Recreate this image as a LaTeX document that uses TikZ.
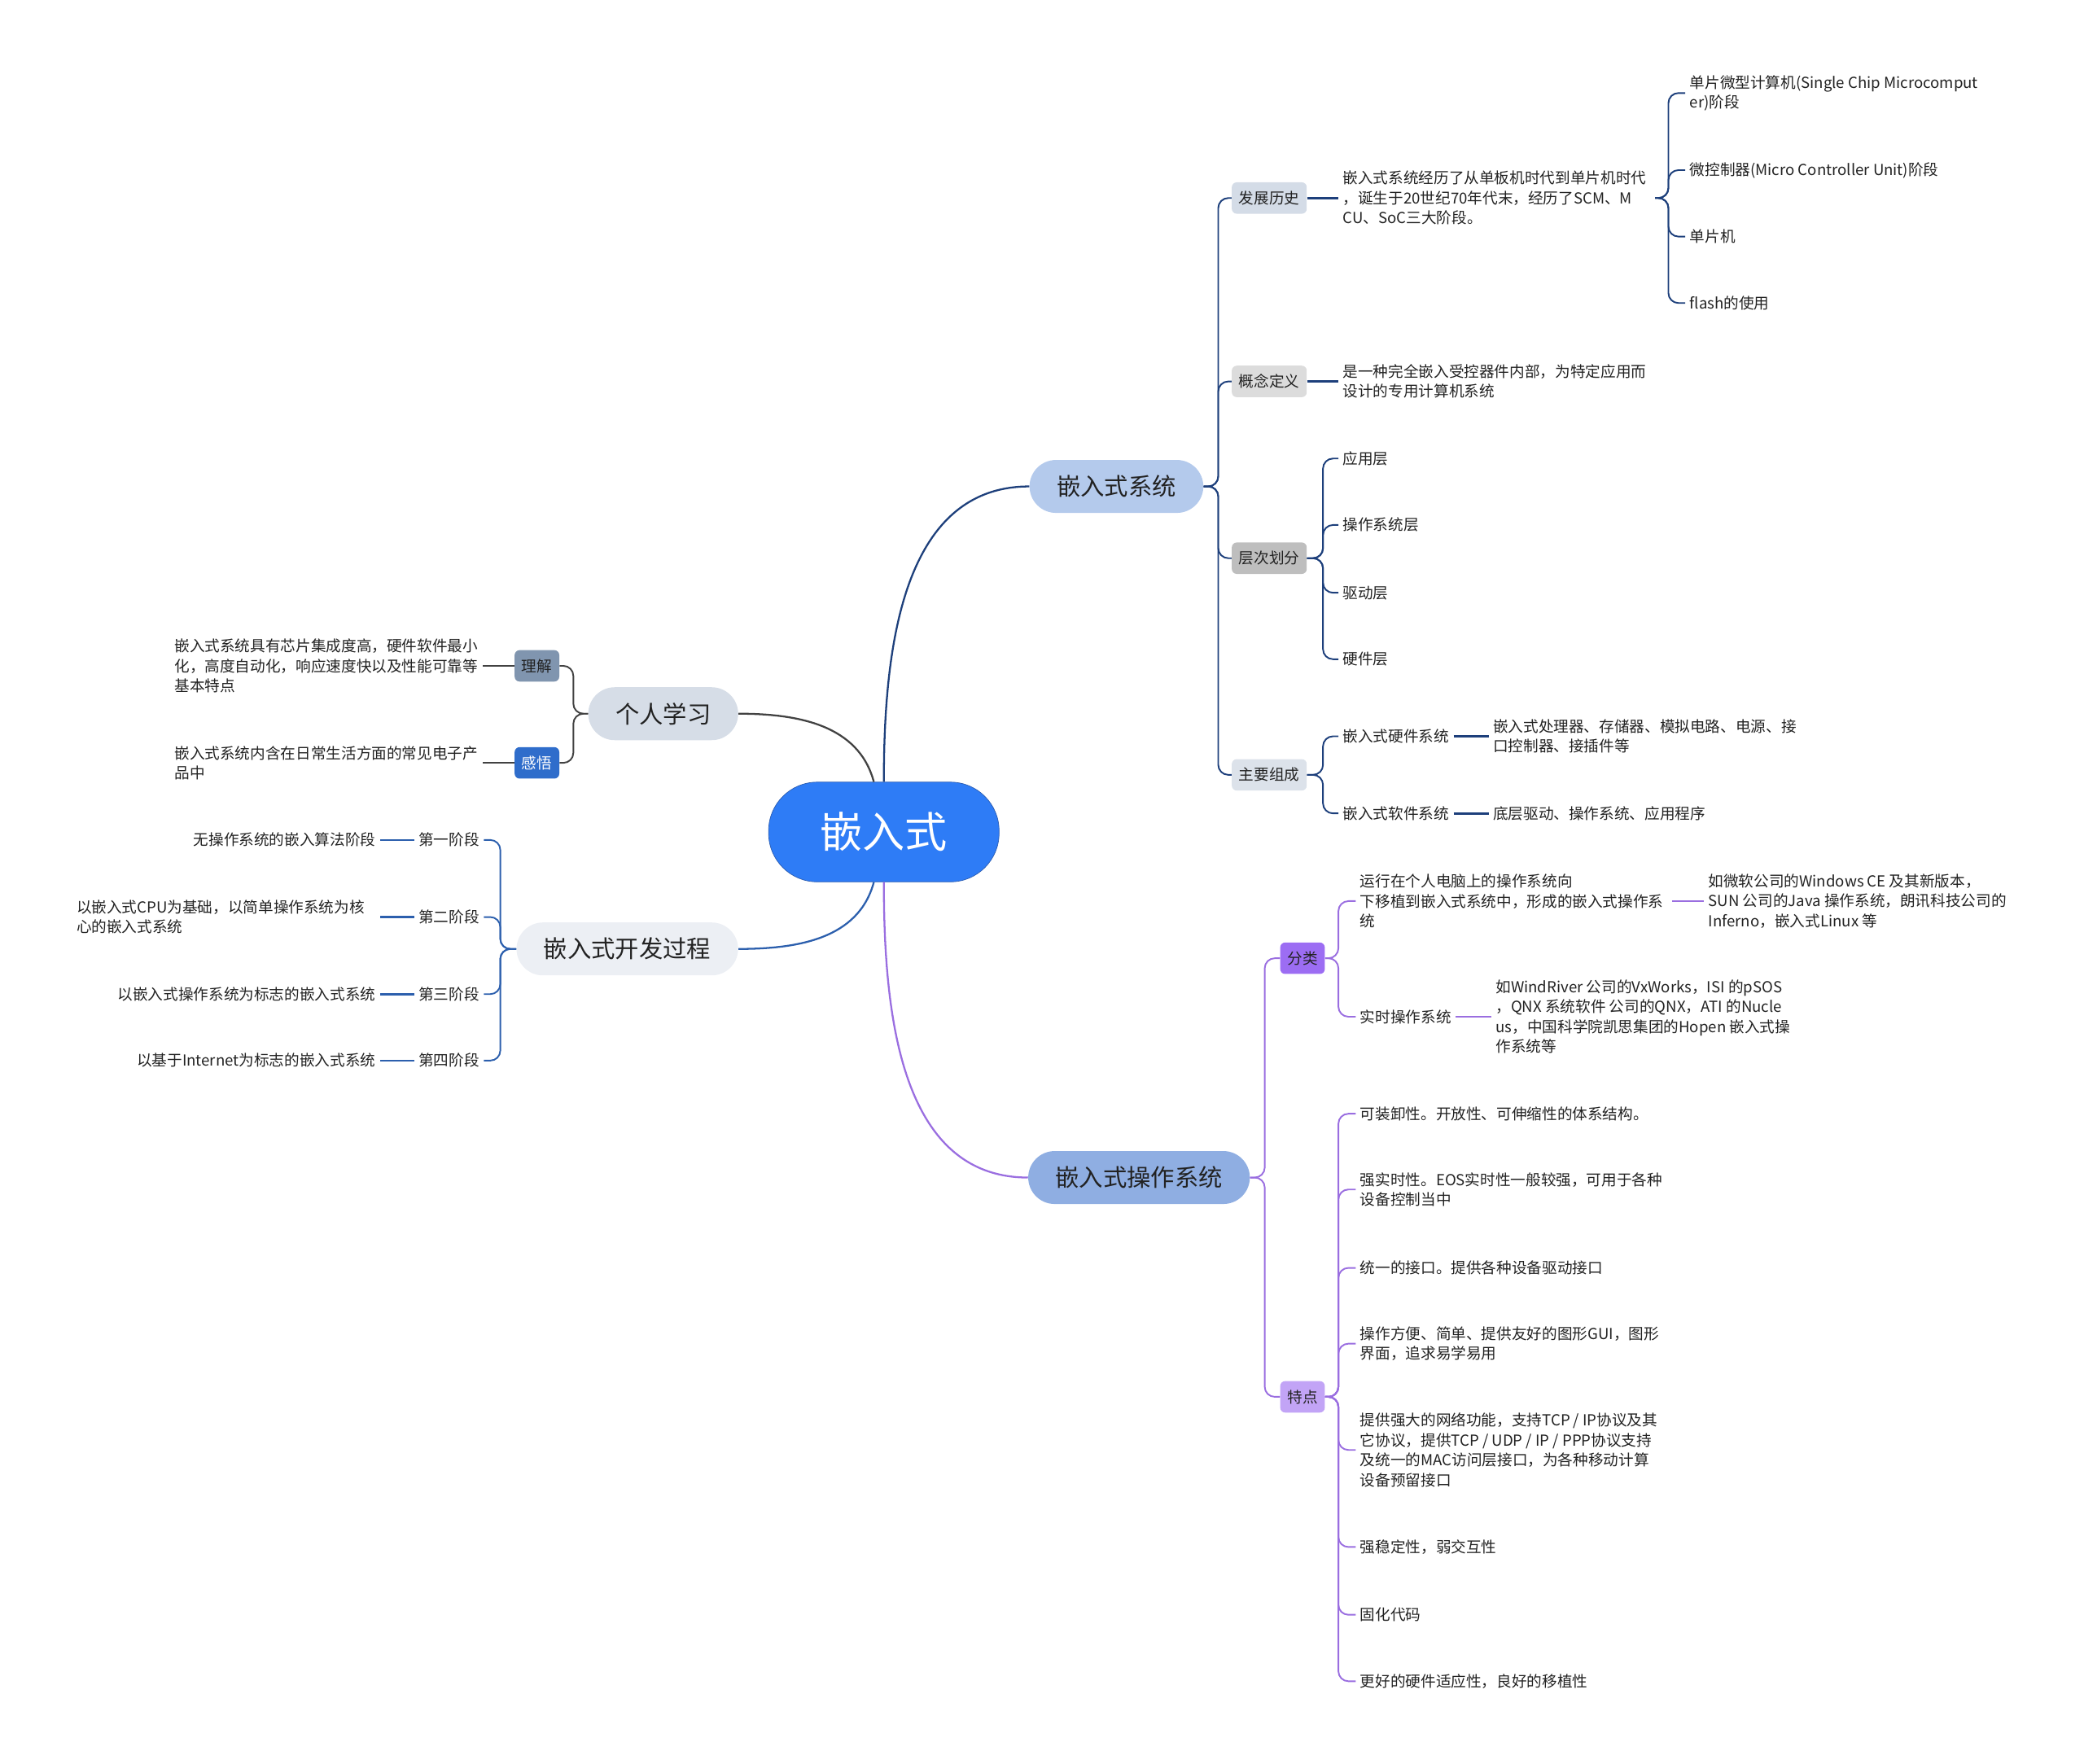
\documentclass[tikz,border=0pt]{standalone}
\usepackage{fontspec}
\setmainfont{Noto Sans CJK SC}
\usepackage{tikz}

\definecolor{rootblue}{HTML}{2E7CF6}
\definecolor{rootedge}{HTML}{2B5CB0}
\definecolor{sysfill}{HTML}{B4CAEC}
\definecolor{osfill}{HTML}{8FAEE2}
\definecolor{learnfill}{HTML}{D6DDE7}
\definecolor{devfill}{HTML}{ECEFF4}
\definecolor{histfill}{HTML}{D4DCE7}
\definecolor{conceptfill}{HTML}{DCDCDC}
\definecolor{layerfill}{HTML}{BEBEBE}
\definecolor{partsfill}{HTML}{DCE2EA}
\definecolor{undfill}{HTML}{8095AF}
\definecolor{feelfill}{HTML}{2F6DCB}
\definecolor{clsfill}{HTML}{9C6DF3}
\definecolor{featfill}{HTML}{C2A4F6}
\definecolor{sysline}{HTML}{1D3F7B}
\definecolor{learnline}{HTML}{424242}
\definecolor{devline}{HTML}{2C5FAD}
\definecolor{osline}{HTML}{9A6EE0}
\definecolor{textdark}{HTML}{222222}

\begin{document}
\begin{tikzpicture}[x=0.03265cm, y=-0.03265cm,
        root/.style={rounded corners=34pt, fill=rootblue, draw=rootedge, thin, text=white, font=\fontsize{29.7}{34}\selectfont, minimum height=69.7pt, inner xsep=36pt},
        topic/.style={rounded corners=18.5pt, minimum height=37pt, inner xsep=19pt, text=textdark, font=\fontsize{16.7}{20}\selectfont},
        tag/.style={rounded corners=3.5pt, minimum height=22pt, inner xsep=5pt, text=textdark, font=\fontsize{10.6}{13.9}\selectfont},
        leaf/.style={anchor=west, align=left, inner xsep=3pt, text=textdark, font=\fontsize{10.6}{13.9}\selectfont},
        leafl/.style={leaf, anchor=east},
        link/.style={line width=1.3pt},
        twig/.style={line width=1.1pt, rounded corners=7pt},
        stub/.style={line width=1.5pt}
    ]
        \useasboundingbox (0,0) rectangle (1568,1327);

        % Root and main topics
        \node[root] (root) at (665,626) {嵌入式};
        \node[topic, fill=sysfill] (sys) at (840,366) {嵌入式系统};
        \node[topic, fill=osfill] (os) at (857,886) {嵌入式操作系统};
        \node[topic, fill=learnfill] (learn) at (499,537) {个人学习};
        \node[topic, fill=devfill] (dev) at (472,714) {嵌入式开发过程};

        % Embedded system branch
        \node[tag, fill=histfill] (hist) at (955,149) {发展历史};
        \node[tag, fill=conceptfill] (concept) at (955,287) {概念定义};
        \node[tag, fill=layerfill] (layer) at (955,420) {层次划分};
        \node[tag, fill=partsfill] (parts) at (955,583) {主要组成};

        \node[leaf, text width=215pt] (histtxt) at (1007,149) {嵌入式系统经历了从单板机时代到单片机时代\\，诞生于20世纪70年代末，经历了SCM、M\\CU、SoC三大阶段。};
        \node[leaf] (scm) at (1268,70) {单片微型计算机(Single Chip Microcomput\\er)阶段};
        \node[leaf] (mcu) at (1268,128) {微控制器(Micro Controller Unit)阶段};
        \node[leaf] (chip) at (1268,178) {单片机};
        \node[leaf] (flash) at (1268,228) {flash的使用};

        \node[leaf] (concepttxt) at (1007,287) {是一种完全嵌入受控器件内部，为特定应用而\\设计的专用计算机系统};

        \node[leaf] (app) at (1007,345) {应用层};
        \node[leaf] (oslayer) at (1007,395) {操作系统层};
        \node[leaf] (drv) at (1007,446) {驱动层};
        \node[leaf] (hwlayer) at (1007,496) {硬件层};

        \node[leaf] (hw) at (1007,554) {嵌入式硬件系统};
        \node[leaf] (sw) at (1007,612) {嵌入式软件系统};
        \node[leaf] (hwtxt) at (1120,554) {嵌入式处理器、存储器、模拟电路、电源、接\\口控制器、接插件等};
        \node[leaf] (swtxt) at (1120,612) {底层驱动、操作系统、应用程序};

        % Embedded OS branch
        \node[tag, fill=clsfill] (cls) at (980,721) {分类};
        \node[tag, fill=featfill] (feat) at (980,1051) {特点};

        \node[leaf, text width=215pt] (port) at (1020,678) {运行在个人电脑上的操作系统向\\下移植到嵌入式系统中，形成的嵌入式操作系\\统};
        \node[leaf] (porttxt) at (1282,678) {如微软公司的Windows CE 及其新版本，\\SUN 公司的Java 操作系统，朗讯科技公司的\\Inferno，嵌入式Linux 等};
        \node[leaf] (rtos) at (1020,765) {实时操作系统};
        \node[leaf] (rtostxt) at (1122,765) {如WindRiver 公司的VxWorks，ISI 的pSOS\\，QNX 系统软件 公司的QNX，ATI 的Nucle\\us，中国科学院凯思集团的Hopen 嵌入式操\\作系统等};

        \node[leaf] (feat1) at (1020,838) {可装卸性。开放性、可伸缩性的体系结构。};
        \node[leaf] (feat2) at (1020,895) {强实时性。EOS实时性一般较强，可用于各种\\设备控制当中};
        \node[leaf] (feat3) at (1020,954) {统一的接口。提供各种设备驱动接口};
        \node[leaf] (feat4) at (1020,1011) {操作方便、简单、提供友好的图形GUI，图形\\界面，追求易学易用};
        \node[leaf] (feat5) at (1020,1091) {提供强大的网络功能，支持TCP / IP协议及其\\它协议，提供TCP / UDP / IP / PPP协议支持\\及统一的MAC访问层接口，为各种移动计算\\设备预留接口};
        \node[leaf] (feat6) at (1020,1164) {强稳定性，弱交互性};
        \node[leaf] (feat7) at (1020,1215) {固化代码};
        \node[leaf] (feat8) at (1020,1265) {更好的硬件适应性，良好的移植性};

        % Personal study branch
        \node[tag, fill=undfill] (und) at (404,501) {理解};
        \node[tag, fill=feelfill, text=white] (feel) at (404,574) {感悟};
        \node[leafl] (undtxt) at (363,501) {嵌入式系统具有芯片集成度高，硬件软件最小\\化，高度自动化，响应速度快以及性能可靠等\\基本特点};
        \node[leafl] (feeltxt) at (363,574) {嵌入式系统内含在日常生活方面的常见电子产\\品中};

        % Development branch
        \node[leafl] (stage1) at (364,632) {第一阶段};
        \node[leafl] (stage2) at (364,690) {第二阶段};
        \node[leafl] (stage3) at (364,748) {第三阶段};
        \node[leafl] (stage4) at (364,798) {第四阶段};
        \node[leafl] (stagetxt1) at (286,632) {无操作系统的嵌入算法阶段};
        \node[leafl, text width=209pt] (stagetxt2) at (286,690) {以嵌入式CPU为基础，以简单操作系统为核\\心的嵌入式系统};
        \node[leafl] (stagetxt3) at (286,748) {以嵌入式操作系统为标志的嵌入式系统};
        \node[leafl] (stagetxt4) at (286,798) {以基于Internet为标志的嵌入式系统};

        % Main links
        \draw[link, sysline] (root.north) to[out=90, in=180] (sys.west);
        \draw[link, learnline] ([xshift=-7pt]root.north) to[out=105, in=0] (learn.east);
        \draw[link, devline] ([xshift=-7pt]root.south) to[out=-105, in=0] (dev.east);
        \draw[link, osline] (root.south) to[out=-90, in=180] (os.west);

        % Twigs
        \foreach \c in {hist,concept,layer,parts}
            \draw[twig, sysline] (sys.east) -- ++(11,0) |- (\c.west);
        \foreach \c in {scm,mcu,chip,flash}
            \draw[twig, sysline] (histtxt.east) -- ++(10,0) |- (\c.west);
        \foreach \c in {app,oslayer,drv,hwlayer}
            \draw[twig, sysline] (layer.east) -- ++(12,0) |- (\c.west);
        \foreach \c in {hw,sw}
            \draw[twig, sysline] (parts.east) -- ++(12,0) |- (\c.west);
        \draw[stub, sysline] (hist.east) -- (histtxt.west);
        \draw[stub, sysline] (concept.east) -- (concepttxt.west);
        \draw[stub, sysline] (hw.east) -- (hwtxt.west);
        \draw[stub, sysline] (sw.east) -- (swtxt.west);

        \foreach \c in {cls,feat}
            \draw[twig, osline] (os.east) -- ++(11,0) |- (\c.west);
        \foreach \c in {port,rtos}
            \draw[twig, osline] (cls.east) -- ++(10,0) |- (\c.west);
        \foreach \i in {1,...,8}
            \draw[twig, osline] (feat.east) -- ++(10,0) |- (feat\i.west);
        \draw[stub, osline] (port.east) -- (porttxt.west);
        \draw[stub, osline] (rtos.east) -- (rtostxt.west);

        \foreach \c in {und,feel}
            \draw[twig, learnline] (learn.west) -- ++(-11,0) |- (\c.east);
        \draw[stub, learnline] (und.west) -- (undtxt.east);
        \draw[stub, learnline] (feel.west) -- (feeltxt.east);

        \foreach \i in {1,...,4} {
            \draw[twig, devline] (dev.west) -- ++(-12,0) |- (stage\i.east);
            \draw[stub, devline] (stage\i.west) -- (stagetxt\i.east);
        }
    \end{tikzpicture}
\end{document}
